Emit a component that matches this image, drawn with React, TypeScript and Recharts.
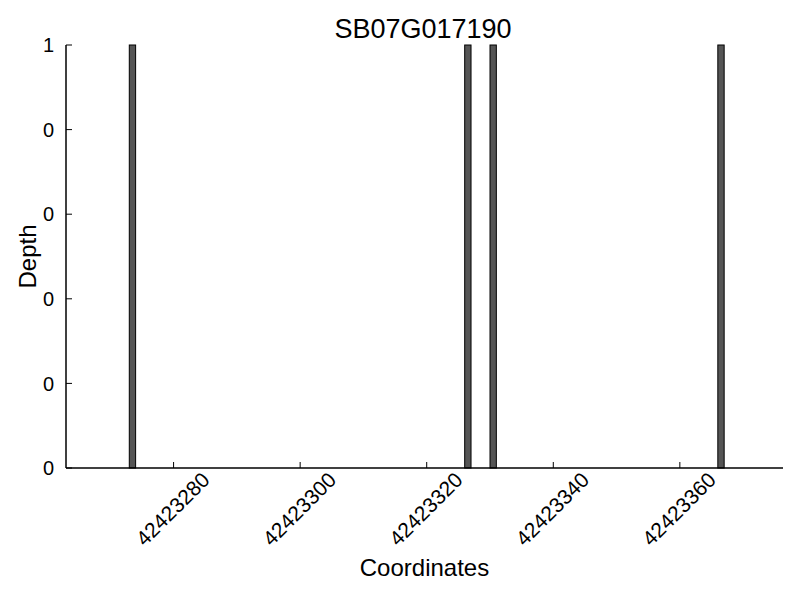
import React from 'react';
import { BarChart, Bar, XAxis, YAxis } from 'recharts';

const positions = [42423273, 42423326, 42423330, 42423366];
const depths = [1, 1, 1, 1];
const xTicks = [42423280, 42423300, 42423320, 42423340, 42423360];
const yTicks = [0, 0.2, 0.4, 0.6, 0.8, 1];
const xDomain: [number, number] = [42423263, 42423376.3];
const title = 'SB07G017190';
const xLabel = 'Coordinates';
const yLabel = 'Depth';

const data = positions.map((p, i) => ({ pos: p, depth: depths[i] }));

const W = 800;
const H = 600;
const margin = { top: 45, right: 17, left: 0, bottom: 0 };
const yAxisWidth = 66;
const xAxisHeight = 132;
const FONT = '"Liberation Sans", Arial, sans-serif';

const plotW = W - margin.left - margin.right - yAxisWidth;
const barSize = plotW / (xDomain[1] - xDomain[0]);
const plotMidY = margin.top + (H - margin.top - margin.bottom - xAxisHeight) / 2;

const BarShape = (props: any) => {
  const { x, y, width, height } = props;
  if (height <= 0) return null;
  return (
    <rect
      x={x + width / 2 + 0.5}
      y={y}
      width={width}
      height={height}
      fill="#555555"
      stroke="#000000"
      strokeWidth={1}
    />
  );
};

const XTick = (props: any) => {
  const { x, y, payload } = props;
  const cx = x - 1;
  const cy = y + 47;
  return (
    <text
      x={cx}
      y={cy}
      textAnchor="middle"
      dominantBaseline="central"
      transform={`rotate(-45, ${cx}, ${cy})`}
      fontSize={21}
      fontFamily={FONT}
      fill="#000"
    >
      {payload.value}
    </text>
  );
};

export default function App() {
  return (
    <div style={{ position: 'absolute', left: 0, top: 0, width: W, height: H, background: '#fff' }}>
      <BarChart width={W} height={H} data={data} margin={margin} barSize={barSize}>
        <text x={423} y={38} textAnchor="middle" fontSize={27} fontFamily={FONT} fill="#000">
          {title}
        </text>
        <text
          x={27}
          y={plotMidY}
          textAnchor="middle"
          dominantBaseline="central"
          transform={`rotate(-90, 27, ${plotMidY})`}
          fontSize={24}
          fontFamily={FONT}
          fill="#000"
        >
          {yLabel}
        </text>
        <XAxis
          dataKey="pos"
          type="number"
          domain={xDomain}
          ticks={xTicks}
          height={xAxisHeight}
          tickSize={-6}
          tickMargin={0}
          tick={<XTick />}
          axisLine={{ stroke: '#000', strokeWidth: 1.5 }}
          tickLine={{ stroke: '#000', strokeWidth: 1 }}
          interval={0}
          allowDataOverflow
          label={{
            value: xLabel,
            position: 'insideBottom',
            offset: 24,
            fontSize: 24,
            fontFamily: FONT,
            fill: '#000',
          }}
        />
        <YAxis
          type="number"
          domain={[0, 1]}
          ticks={yTicks}
          width={yAxisWidth}
          tickSize={-6}
          tickMargin={18}
          interval={0}
          tickFormatter={(v: number) => String(Math.floor(v))}
          tick={{ fontSize: 20, fontFamily: FONT, fill: '#000' }}
          axisLine={{ stroke: '#000', strokeWidth: 1.5 }}
          tickLine={{ stroke: '#000', strokeWidth: 1 }}
        />
        <Bar dataKey="depth" isAnimationActive={false} shape={<BarShape />} />
      </BarChart>
    </div>
  );
}
